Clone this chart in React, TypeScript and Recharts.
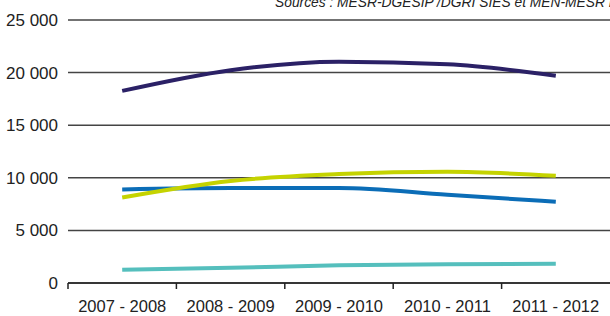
import React from "react";
import { LineChart, Line, XAxis, YAxis, CartesianGrid } from "recharts";

const years = ["2007 - 2008", "2008 - 2009", "2009 - 2010", "2010 - 2011", "2011 - 2012"];
const purpleSeries = [18260, 20230, 21040, 20790, 19710];
const yellowSeries = [8130, 9700, 10350, 10570, 10190];
const blueSeries = [8890, 9020, 9020, 8385, 7720];
const tealSeries = [1265, 1450, 1680, 1790, 1830];
const yTicks = [0, 5000, 10000, 15000, 20000, 25000];

const FONT = "'Liberation Sans Narrow', 'Liberation Sans', Arial, sans-serif";
const W = 610;
const H = 316;
const LEFT = 68;
const BAND = (W - LEFT) / years.length;
const AXIS_Y = 283;

const fmt = (v: number) => String(v).replace(/\B(?=(\d{3})+(?!\d))/g, " ");

const XTick = (props: any) => {
  const { x, payload } = props;
  const left = x - BAND / 2;
  return (
    <g>
      <line x1={left} y1={AXIS_Y} x2={left} y2={AXIS_Y + 6} stroke="#222" strokeWidth={1.5} />
      <text x={x} y={AXIS_Y + 29} textAnchor="middle" fill="#222" fontSize={16.5} fontFamily={FONT}>
        {payload.value}
      </text>
    </g>
  );
};

const App = () => {
  const data = years.map((name, i) => ({
    name,
    a: purpleSeries[i],
    b: yellowSeries[i],
    c: blueSeries[i],
    d: tealSeries[i],
  }));

  return (
    <div style={{ position: "absolute", left: 0, top: 0, width: W, height: H, overflow: "hidden", background: "#fff" }}>
      <div
        style={{
          position: "absolute",
          left: 275,
          top: -4,
          fontFamily: FONT,
          fontStyle: "italic",
          fontSize: 13.8,
          lineHeight: "14px",
          whiteSpace: "nowrap",
          color: "#222",
        }}
      >
        Sources : MESR-DGESIP /DGRI SIES et MEN-MESR DEPP
      </div>
      <LineChart width={W} height={H} data={data} margin={{ top: 20, right: 0, left: 0, bottom: 0 }}>
        <CartesianGrid vertical={false} stroke="#444" strokeWidth={1.5} />
        <XAxis
          dataKey="name"
          height={33}
          interval={0}
          padding={{ left: BAND / 2, right: BAND / 2 }}
          axisLine={{ stroke: "#222", strokeWidth: 1.5 }}
          tickLine={false}
          tick={<XTick />}
        />
        <YAxis
          width={LEFT}
          domain={[0, 25000]}
          ticks={yTicks}
          interval={0}
          axisLine={false}
          tickLine={false}
          tickSize={0}
          tickMargin={10}
          tickFormatter={fmt}
          tick={{ fill: "#222", fontSize: 17, fontFamily: FONT }}
        />
        <Line type="monotone" dataKey="a" stroke="#2b2166" strokeWidth={4} dot={false} isAnimationActive={false} />
        <Line type="monotone" dataKey="c" stroke="#0b6db7" strokeWidth={4} dot={false} isAnimationActive={false} />
        <Line type="monotone" dataKey="b" stroke="#c5d300" strokeWidth={4} dot={false} isAnimationActive={false} />
        <Line type="monotone" dataKey="d" stroke="#55bfbd" strokeWidth={4} dot={false} isAnimationActive={false} />
      </LineChart>
    </div>
  );
};

export default App;
